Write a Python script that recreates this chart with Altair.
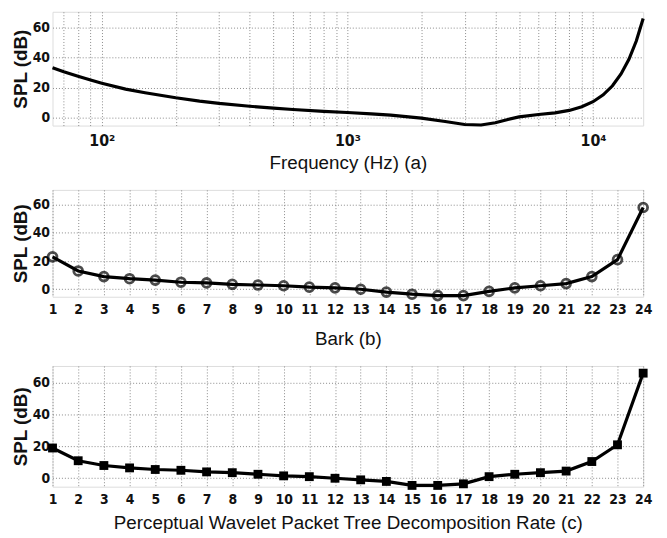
import altair as alt
import pandas as pd

# Panel (a): absolute threshold of hearing
freq_hz = [63, 70, 80, 90, 100, 125, 150, 200, 250, 300, 400, 500, 600, 800,
           1000, 1250, 1500, 2000, 2500, 3000, 3500, 4000, 4500, 5000, 6000,
           7000, 8000, 9000, 10000, 11000, 12000, 13000, 14000, 15000, 16000]
spl_a = [33.2, 30.5, 27.5, 25.0, 22.9, 19.0, 16.6, 13.2, 11.0, 9.5, 7.6, 6.3,
         5.4, 4.2, 3.4, 2.5, 1.7, -0.3, -2.6, -4.6, -4.9, -3.4, -1.2, 0.5, 2.1,
         3.2, 4.8, 7.2, 10.6, 15.2, 21.2, 29.1, 38.9, 51.0, 66.0]

# Panel (b): Bark bands
bark = list(range(1, 25))
spl_b = [23, 13, 9, 7.5, 6.5, 5, 4.5, 3.5, 3, 2.5, 1.5, 1, 0, -2, -3.5, -4.5,
         -4.5, -1.5, 1, 2.5, 4, 9, 21, 58]

# Panel (c): perceptual wavelet packet tree decomposition
pwp = list(range(1, 25))
spl_c = [19, 11, 8, 6.5, 5.5, 5, 4, 3.5, 2.5, 1.5, 1, 0, -1, -2, -4.5, -4.5,
         -3.5, 1, 2.5, 3.5, 4.5, 10.5, 21, 66]

df_a = pd.DataFrame({"f": freq_hz, "spl": spl_a})
df_b = pd.DataFrame({"x": bark, "spl": spl_b})
df_c = pd.DataFrame({"x": pwp, "spl": spl_c})

W = 597
LABEL_FONT = "DejaVu Sans Condensed, Liberation Sans, sans-serif"
TITLE_FONT = "Liberation Sans Narrow, Arial Narrow, Liberation Sans, sans-serif"
GRID = dict(grid=True, gridColor="#8a8a8a", gridDash=[1, 2], gridWidth=1,
            ticks=False, domain=False)

def y_enc():
    return alt.Y("spl:Q", scale=alt.Scale(domain=[-5.3, 70.5], nice=False, zero=False),
                 axis=alt.Axis(values=[0, 20, 40, 60], title="SPL (dB)",
                               titleFont="Liberation Sans", titleFontSize=19,
                               titleFontWeight="bold", titleColor="#111",
                               titlePadding=2, labelFont=LABEL_FONT,
                               labelFontSize=14, labelFontWeight="bold",
                               labelColor="#111", labelPadding=3, **GRID))

decades = [70, 80, 90, 100, 200, 300, 400, 500, 600, 700, 800, 900, 1000,
           2000, 3000, 4000, 5000, 6000, 7000, 8000, 9000, 10000]

a = alt.Chart(df_a).mark_line(color="black", strokeWidth=3.2).encode(
    x=alt.X("f:Q", scale=alt.Scale(type="log", domain=[63, 16000], nice=False),
            axis=alt.Axis(values=decades, title="Frequency (Hz) (a)",
                          labelExpr="datum.value==100?'10²':datum.value==1000?'10³':datum.value==10000?'10⁴':''",
                          labelFont=LABEL_FONT, labelFontSize=16, labelFontWeight="bold",
                          labelColor="#111", labelPadding=7, labelFlush=False,
                          titleFont=TITLE_FONT, titleFontSize=19, titleFontWeight="normal",
                          titleColor="#111", titlePadding=5, **GRID)),
    y=y_enc(),
).properties(width=W, height=115)

def int_x(title, pad_l, pad_t):
    return alt.X("x:Q", scale=alt.Scale(domain=[1, 24], nice=False, zero=False),
                 axis=alt.Axis(values=list(range(1, 25)), format="d", title=title,
                               labelFont=LABEL_FONT, labelFontSize=14,
                               labelFontWeight="bold", labelColor="#111",
                               labelPadding=pad_l, labelFlush=False,
                               titleFont=TITLE_FONT, titleFontSize=19,
                               titleFontWeight="normal", titleColor="#111",
                               titlePadding=pad_t, **GRID))

b_base = alt.Chart(df_b).encode(x=int_x("Bark (b)", 6, 13), y=y_enc())
b = alt.layer(
    b_base.mark_line(color="black", strokeWidth=3.2),
    b_base.mark_point(shape="circle", filled=False, color="black", size=80, strokeWidth=2.8),
).properties(width=W, height=108)

c_base = alt.Chart(df_c).encode(x=int_x("Perceptual Wavelet Packet Tree Decomposition Rate (c)", 6, 7), y=y_enc())
c = alt.layer(
    c_base.mark_line(color="black", strokeWidth=3.2),
    c_base.mark_point(shape="square", filled=True, color="black", size=80, opacity=1),
).properties(width=W, height=122)

chart = alt.vconcat(a, b, c, spacing=16).properties(
    padding={"left": 2, "top": 0, "right": 5, "bottom": 0}
).configure_view(stroke="#777", strokeWidth=1.5).configure(background="white")

chart.save("out.html", embed_options={"renderer": "svg", "actions": False})
